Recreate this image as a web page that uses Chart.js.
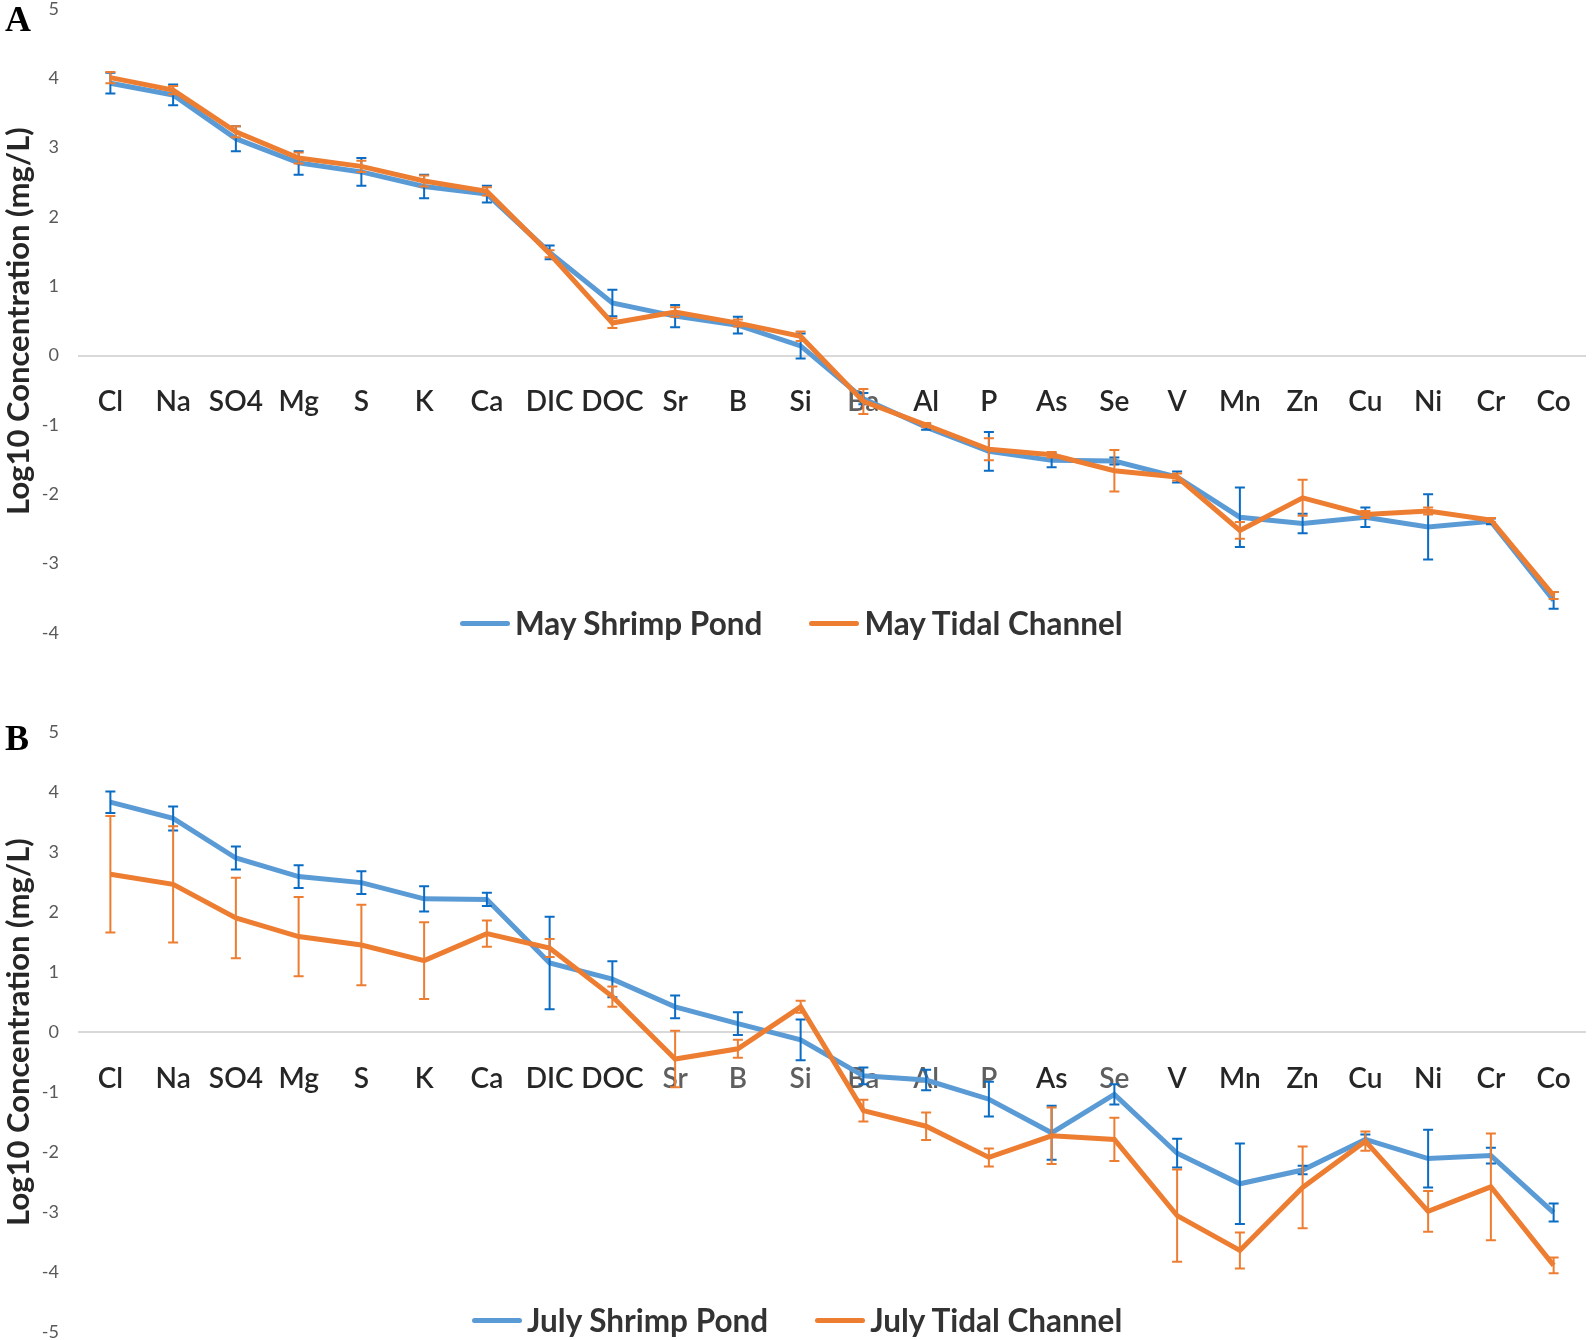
<!DOCTYPE html>
<html lang="en">
<head>
    <meta charset="UTF-8">
    <title>Log10 Concentration</title>
    <script src="https://cdn.jsdelivr.net/npm/chart.js"></script>
    <style>
        body { margin: 0; background: #fff; }
        .panel { position: absolute; left: 0; width: 1594px; height: 670px; }
        .letter { position: absolute; left: 5px; font: bold 36px "Liberation Serif", "Times New Roman", serif; line-height: 36px; color: #000; }
        .legend { position: absolute; display: flex; align-items: center; font: 700 31.5px Lato, sans-serif; color: #333; line-height: 34px; }
        .legend .item { display: flex; align-items: center; margin-right: 47px; }
        .legend .sw { display: inline-block; width: 50px; height: 5px; border-radius: 3px; margin-right: 5px; }
    </style>
</head>
<body>

<div class="panel" style="top:0"><canvas id="chartA"></canvas></div>
<div class="panel" style="top:670px"><canvas id="chartB"></canvas></div>

<div class="letter" style="top:1px">A</div>
<div class="letter" style="top:720px">B</div>

<div class="legend" style="left:460px; top:606px">
    <span class="item"><span class="sw" style="background:#5B9BD5"></span>May Shrimp Pond</span>
    <span class="item"><span class="sw" style="background:#ED7D31"></span>May Tidal Channel</span>
</div>
<div class="legend" style="left:472px; top:1303px">
    <span class="item"><span class="sw" style="background:#5B9BD5"></span>July Shrimp Pond</span>
    <span class="item"><span class="sw" style="background:#ED7D31"></span>July Tidal Channel</span>
</div>

<script>
    // elements on the x axis
    const categories = ['Cl', 'Na', 'SO4', 'Mg', 'S', 'K', 'Ca', 'DIC', 'DOC', 'Sr', 'B', 'Si',
        'Ba', 'Al', 'P', 'As', 'Se', 'V', 'Mn', 'Zn', 'Cu', 'Ni', 'Cr', 'Co'];

    // panel A - May
    const mayPond = [3.93, 3.76, 3.13, 2.78, 2.65, 2.44, 2.33, 1.49, 0.76, 0.57, 0.44, 0.14,
        -0.62, -1.03, -1.38, -1.51, -1.52, -1.75, -2.33, -2.42, -2.33, -2.47, -2.39, -3.53];
    const mayPondErr = [0.15, 0.15, 0.18, 0.17, 0.2, 0.17, 0.12, 0.1, 0.19, 0.16, 0.12, 0.18,
        0.08, 0.04, 0.28, 0.1, 0.05, 0.08, 0.43, 0.14, 0.14, 0.47, 0.04, 0.12];
    const mayChannel = [4.01, 3.83, 3.23, 2.85, 2.73, 2.52, 2.37, 1.47, 0.47, 0.63, 0.47, 0.28,
        -0.66, -1.0, -1.35, -1.43, -1.66, -1.75, -2.52, -2.05, -2.29, -2.24, -2.37, -3.46];
    const mayChannelErr = [0.08, 0.06, 0.08, 0.08, 0.08, 0.08, 0.06, 0.05, 0.07, 0.07, 0.05, 0.07,
        0.18, 0.03, 0.16, 0.04, 0.3, 0.05, 0.12, 0.26, 0.05, 0.05, 0.03, 0.05];

    // panel B - July
    const julyPond = [3.83, 3.56, 2.9, 2.59, 2.49, 2.22, 2.21, 1.15, 0.88, 0.42, 0.14, -0.13,
        -0.73, -0.8, -1.12, -1.68, -1.04, -2.02, -2.53, -2.3, -1.79, -2.11, -2.06, -3.01];
    const julyPondErr = [0.18, 0.2, 0.19, 0.19, 0.19, 0.21, 0.11, 0.77, 0.3, 0.19, 0.19, 0.34,
        0.14, 0.17, 0.29, 0.45, 0.17, 0.24, 0.67, 0.07, 0.08, 0.48, 0.13, 0.15];
    const julyChannel = [2.63, 2.46, 1.9, 1.59, 1.45, 1.19, 1.64, 1.4, 0.59, -0.45, -0.28, 0.42,
        -1.31, -1.57, -2.09, -1.73, -1.79, -3.06, -3.64, -2.59, -1.82, -2.99, -2.58, -3.89];
    const julyChannelErr = [0.97, 0.97, 0.67, 0.66, 0.67, 0.64, 0.22, 0.15, 0.17, 0.47, 0.15, 0.1,
        0.18, 0.23, 0.15, 0.47, 0.36, 0.77, 0.3, 0.68, 0.16, 0.34, 0.89, 0.13];

    const BLUE = '#5B9BD5';
    const BLUE_ERR = '#0A6CC4';
    const ORANGE = '#ED7D31';

    // draws the +/- error bars right after each line
    const errorBars = {
        id: 'errorBars',
        afterDatasetDraw(chart, args) {
            const ds = chart.data.datasets[args.index];
            if (!ds.errors) return;
            const {ctx} = chart;
            const x = chart.scales.x;
            const y = chart.scales.y;
            ctx.save();
            ctx.strokeStyle = ds.errorColor;
            ctx.lineWidth = 2;
            ds.data.forEach((v, i) => {
                const px = x.getPixelForValue(i);
                const top = y.getPixelForValue(v + ds.errors[i]);
                const bot = y.getPixelForValue(v - ds.errors[i]);
                ctx.beginPath();
                ctx.moveTo(px, top);
                ctx.lineTo(px, bot);
                ctx.moveTo(px - 5, top);
                ctx.lineTo(px + 5, top);
                ctx.moveTo(px - 5, bot);
                ctx.lineTo(px + 5, bot);
                ctx.stroke();
            });
            ctx.restore();
        }
    };

    function makeChart(id, pond, pondErr, channel, channelErr, yMin, padding, faded) {
        return new Chart(document.getElementById(id), {
            type: 'line',
            data: {
                labels: categories,
                datasets: [
                    {
                        data: pond,
                        errors: pondErr,
                        errorColor: BLUE_ERR,
                        borderColor: BLUE,
                        borderWidth: 5,
                        pointRadius: 0,
                        tension: 0,
                        order: 2
                    },
                    {
                        data: channel,
                        errors: channelErr,
                        errorColor: ORANGE,
                        borderColor: ORANGE,
                        borderWidth: 5,
                        pointRadius: 0,
                        tension: 0,
                        order: 1
                    }
                ]
            },
            options: {
                responsive: true,
                maintainAspectRatio: false,
                animation: false,
                layout: {padding: padding},
                plugins: {
                    legend: {display: false},
                    tooltip: {enabled: false}
                },
                scales: {
                    x: {
                        type: 'category',
                        offset: true,
                        position: {y: 0},
                        grid: {display: false, drawTicks: false},
                        border: {display: true, color: '#D9D9D9', width: 2},
                        ticks: {
                            autoSkip: false,
                            maxRotation: 0,
                            padding: 30,
                            font: {family: 'Lato', size: 28, weight: 600},
                            color: (c) => faded.includes(categories[c.index]) ? '#5f5f5f' : '#262626'
                        },
                        afterFit(scale) {
                            scale.height = 0;
                            scale.paddingLeft = 0;
                            scale.paddingRight = 0;
                        }
                    },
                    y: {
                        min: yMin,
                        max: 5,
                        grid: {display: false, drawTicks: false},
                        border: {display: false},
                        ticks: {
                            stepSize: 1,
                            padding: 20,
                            font: {family: 'Lato', size: 18, lineHeight: 1},
                            color: '#595959'
                        },
                        title: {
                            display: true,
                            text: 'Log10 Concentration (mg/L)',
                            font: {family: 'Lato', size: 31, weight: 700},
                            color: '#262626',
                            padding: 0
                        },
                        afterFit(scale) {
                            scale.width = 79;
                            scale.paddingTop = 0;
                            scale.paddingBottom = 0;
                        }
                    }
                }
            },
            plugins: [errorBars]
        });
    }

    makeChart('chartA', mayPond, mayPondErr, mayChannel, mayChannelErr, -4,
        {top: 9, bottom: 37, left: 0, right: 9}, ['Ba']);
    makeChart('chartB', julyPond, julyPondErr, julyChannel, julyChannelErr, -5,
        {top: 62, bottom: 8, left: 0, right: 9}, ['Sr', 'B', 'Si', 'Ba', 'Al', 'P', 'Se']);
</script>

</body>
</html>
